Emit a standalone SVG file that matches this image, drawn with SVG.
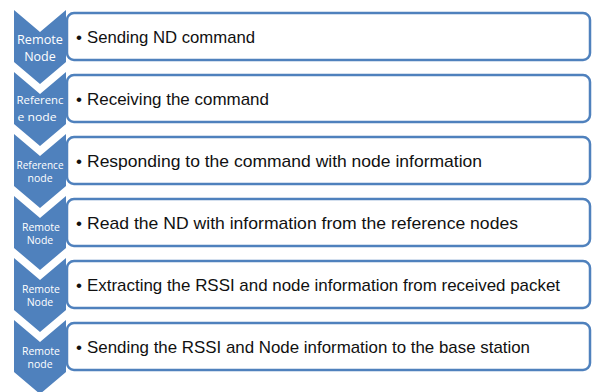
<svg xmlns="http://www.w3.org/2000/svg" width="593" height="392" viewBox="0 0 593 392">
<defs>
<style>
.chev{fill:#4F81BD;}
.box{fill:#fff;stroke:#4F81BD;stroke-width:2.5;}
.lbl{fill:#fff;font-family:"Open Sans","Liberation Sans",sans-serif;text-anchor:middle;}
.txt{fill:#111;font-family:"Liberation Sans",Arial,sans-serif;font-size:17px;}
</style>
<path id="chevShape" d="M0,0 L26,22 L52,0 L52,52 L26,74 L0,52 Z"/>
</defs>
<rect width="593" height="392" fill="#fff"/>
<g id="step1">
<use href="#chevShape" class="chev" x="14" y="10"/>
<rect class="box" x="67" y="13" width="523" height="47" rx="7"/>
<text class="lbl" x="40" y="44" font-size="12.5" textLength="46" lengthAdjust="spacingAndGlyphs">Remote</text>
<text class="lbl" x="40" y="61" font-size="12.5">Node</text>
<text class="txt" x="76" y="43">•</text>
<text class="txt" x="87" y="43" textLength="168" lengthAdjust="spacingAndGlyphs">Sending ND command</text>
</g>
<g id="step2">
<use href="#chevShape" class="chev" x="14" y="72"/>
<rect class="box" x="67" y="75" width="523" height="47" rx="7"/>
<text class="lbl" x="40" y="104" font-size="11.5" textLength="47" lengthAdjust="spacingAndGlyphs">Referenc</text>
<text class="lbl" x="37" y="121" font-size="11.5" textLength="39" lengthAdjust="spacingAndGlyphs">e node</text>
<text class="txt" x="76" y="105">•</text>
<text class="txt" x="87" y="105" textLength="182" lengthAdjust="spacingAndGlyphs">Receiving the command</text>
</g>
<g id="step3">
<use href="#chevShape" class="chev" x="14" y="134"/>
<rect class="box" x="67" y="137" width="523" height="47" rx="7"/>
<text class="lbl" x="40" y="168.5" font-size="10" textLength="47" lengthAdjust="spacingAndGlyphs">Reference</text>
<text class="lbl" x="40" y="182" font-size="10.5">node</text>
<text class="txt" x="76" y="167">•</text>
<text class="txt" x="87" y="167" textLength="395" lengthAdjust="spacingAndGlyphs">Responding to the command with node information</text>
</g>
<g id="step4">
<use href="#chevShape" class="chev" x="14" y="196"/>
<rect class="box" x="67" y="199" width="523" height="47" rx="7"/>
<text class="lbl" x="41" y="231" font-size="10.5" textLength="38" lengthAdjust="spacingAndGlyphs">Remote</text>
<text class="lbl" x="40" y="244" font-size="10.5">Node</text>
<text class="txt" x="76" y="229">•</text>
<text class="txt" x="87" y="229" textLength="431" lengthAdjust="spacingAndGlyphs">Read the ND with information from the reference nodes</text>
</g>
<g id="step5">
<use href="#chevShape" class="chev" x="14" y="258"/>
<rect class="box" x="67" y="261" width="523" height="47" rx="7"/>
<text class="lbl" x="41" y="293" font-size="10.5" textLength="38" lengthAdjust="spacingAndGlyphs">Remote</text>
<text class="lbl" x="40" y="306" font-size="10.5">Node</text>
<text class="txt" x="76" y="291">•</text>
<text class="txt" x="87" y="291" textLength="473" lengthAdjust="spacingAndGlyphs">Extracting the RSSI and node information from received packet</text>
</g>
<g id="step6">
<use href="#chevShape" class="chev" x="14" y="320"/>
<rect class="box" x="67" y="323" width="523" height="47" rx="7"/>
<text class="lbl" x="41" y="355" font-size="10.5" textLength="38" lengthAdjust="spacingAndGlyphs">Remote</text>
<text class="lbl" x="40" y="368" font-size="10.5">node</text>
<text class="txt" x="76" y="353">•</text>
<text class="txt" x="87" y="353" textLength="443" lengthAdjust="spacingAndGlyphs">Sending the RSSI and Node information to the base station</text>
</g>
<g id="connectors"></g>
</svg>
